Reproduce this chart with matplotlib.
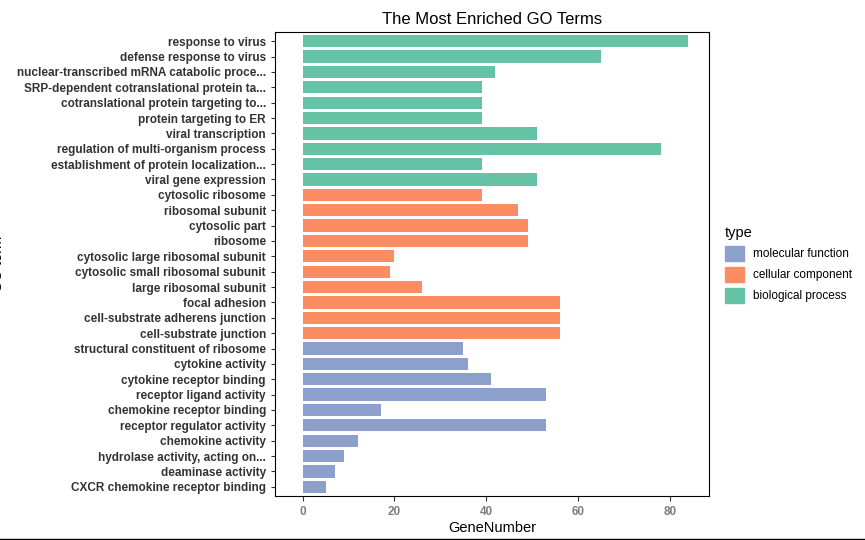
import matplotlib
matplotlib.use("Agg")
import matplotlib.pyplot as plt
from matplotlib.patches import Patch
plt.rcParams['font.family'] = ['Liberation Sans', 'DejaVu Sans']

terms = ["response to virus","defense response to virus","nuclear-transcribed mRNA catabolic proce...",
"SRP-dependent cotranslational protein ta...","cotranslational protein targeting to...","protein targeting to ER",
"viral transcription","regulation of multi-organism process","establishment of protein localization...",
"viral gene expression","cytosolic ribosome","ribosomal subunit","cytosolic part","ribosome",
"cytosolic large ribosomal subunit","cytosolic small ribosomal subunit","large ribosomal subunit",
"focal adhesion","cell-substrate adherens junction","cell-substrate junction",
"structural constituent of ribosome","cytokine activity","cytokine receptor binding","receptor ligand activity",
"chemokine receptor binding","receptor regulator activity","chemokine activity","hydrolase activity, acting on...",
"deaminase activity","CXCR chemokine receptor binding"]
counts = [84,65,42,39,39,39,51,78,39,51,39,47,49,49,20,19,26,56,56,56,35,36,41,53,17,53,12,9,7,5]
types = ["BP"]*10 + ["CC"]*10 + ["MF"]*10
colors = {"MF":"#8DA0CB","CC":"#FC8D62","BP":"#66C2A5"}

fig = plt.figure(figsize=(8.65,5.4), dpi=100)
ax = fig.add_axes([275/865, 1-496/540, (709-275)/865, (496-32)/540])
y = list(range(len(terms)))[::-1]
ax.barh(y, counts, height=0.8, color=[colors[t] for t in types])
ax.set_yticks(y)
ax.set_yticklabels(terms, fontsize=8.5, fontweight="bold", color="#7f7f7f")
ax.set_ylim(-0.6, len(terms)-0.4)
ax.set_xlim(-6, 88.5)
ax.set_xticks([0,20,40,60,80])
ax.tick_params(axis="x", labelsize=8.5, colors="#333333", labelcolor="#7f7f7f")
ax.tick_params(axis="y", length=3, colors="#333333")
for lab in ax.get_xticklabels():
    lab.set_fontweight("bold")
for s in ax.spines.values():
    s.set_color("black"); s.set_linewidth(0.8)
ax.set_xlabel("GeneNumber", fontsize=10.5, labelpad=2)
ax.set_ylabel("GO term", fontsize=10.5)
ax.yaxis.set_label_coords(-270/434, 0.5)
ax.set_title("The Most Enriched GO Terms", fontsize=12, pad=6)
handles = [Patch(color=colors["MF"], label="molecular function"),
           Patch(color=colors["CC"], label="cellular component"),
           Patch(color=colors["BP"], label="biological process")]
fig.legend(handles=handles, title="type", loc="upper left", bbox_to_anchor=(714/865, 1-215/540),
           frameon=False, fontsize=8.5, title_fontsize=10.5, handlelength=1.6, handleheight=1.6,
           alignment="left")
fig.add_artist(plt.Line2D([0,1],[0.002,0.002], color="black", lw=1))
fig.savefig("out.png", dpi=100)
